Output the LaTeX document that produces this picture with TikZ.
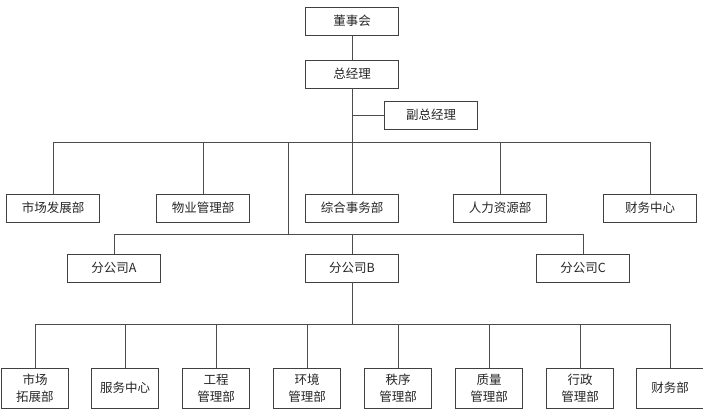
\documentclass[tikz,border=0pt]{standalone}
\usepackage{fontspec}
\setmainfont{Noto Sans CJK SC}
\usetikzlibrary{positioning}

\begin{document}
\begin{tikzpicture}[
x=1pt, y=-1pt,
orgbox/.style={rectangle, draw=black!75, line width=0.8pt, minimum width=93pt, minimum height=28pt, inner sep=0pt, align=center, font=\fontsize{12.5}{16}\selectfont, text=black!85},
deptbox/.style={orgbox, minimum width=67pt, minimum height=40pt, font=\fontsize{12.5}{17}\selectfont},
link/.style={draw=black!70, line width=0.8pt}
]
\useasboundingbox (0,0) rectangle (703,417);
\node[orgbox] (board) at (352,21) {董事会};
\node[orgbox] (gm) at (352,74) {总经理};
\node[orgbox] (vice) at (431,115) {副总经理};
\node[orgbox] (market) at (53,208) {市场发展部};
\node[orgbox] (property) at (203,208) {物业管理部};
\node[orgbox] (admin) at (352,208) {综合事务部};
\node[orgbox] (hr) at (500,208) {人力资源部};
\node[orgbox] (finance) at (650,208) {财务中心};
\node[orgbox] (subA) at (114,268) {分公司A};
\node[orgbox] (subB) at (352,268) {分公司B};
\node[orgbox] (subC) at (583,268) {分公司C};
\node[deptbox] (expand) at (35,388) {市场\\拓展部};
\node[deptbox] (service) at (125,388) {服务中心};
\node[deptbox] (works) at (216,388) {工程\\管理部};
\node[deptbox] (env) at (307,388) {环境\\管理部};
\node[deptbox] (order) at (398,388) {秩序\\管理部};
\node[deptbox] (quality) at (489,388) {质量\\管理部};
\node[deptbox] (office) at (580,388) {行政\\管理部};
\node[deptbox] (accounts) at (670,388) {财务部};
\coordinate (busTop) at (352,142);
\coordinate (forkTop) at (288,142);
\coordinate (busMid) at (288,234);
\coordinate (busLow) at (352,324);
% top levels
\draw[link] (board) -- (gm);
\draw[link] (gm) -- (admin);
\draw[link] (gm |- vice) -- (vice);
\draw[link] (busTop) -| (market);
\draw[link] (busTop) -| (property);
\draw[link] (busTop) -| (hr);
\draw[link] (busTop) -| (finance);
% branches
\draw[link] (forkTop) -- (busMid);
\draw[link] (busMid) -| (subA);
\draw[link] (busMid) -| (subC);
\draw[link] (subB |- busMid) -- (subB);
% departments of branch B
\draw[link] (subB) -- (busLow);
\draw[link] (busLow) -| (expand);
\draw[link] (busLow) -| (service);
\draw[link] (busLow) -| (works);
\draw[link] (busLow) -| (env);
\draw[link] (busLow) -| (order);
\draw[link] (busLow) -| (quality);
\draw[link] (busLow) -| (office);
\draw[link] (busLow) -| (accounts);
\end{tikzpicture}
\end{document}
